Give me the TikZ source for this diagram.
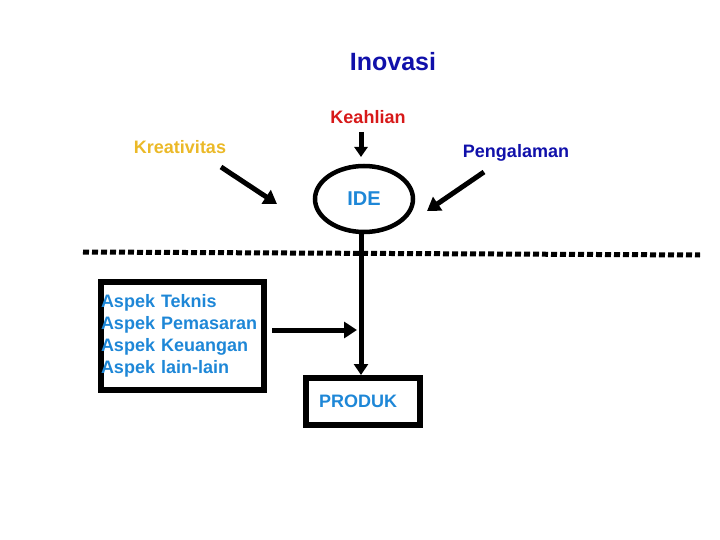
\documentclass[tikz,border=0pt]{standalone}
\usepackage{fontspec}
\setmainfont{Liberation Sans}
\usetikzlibrary{arrows.meta,shapes.geometric}
\definecolor{dblue}{RGB}{16,16,170}
\definecolor{kred}{RGB}{215,25,25}
\definecolor{kyel}{RGB}{235,185,40}
\definecolor{lblue}{RGB}{30,135,215}
\begin{document}
\begin{tikzpicture}[x=1pt,y=-1pt,
  lbl/.style={font=\fontsize{18}{22}\selectfont\bfseries, inner sep=0pt},
  arr/.style={line width=5pt, -{Triangle[length=13pt,width=16pt]}},
  frame/.style={draw=black, line width=6pt}]
\useasboundingbox (0,0) rectangle (720,540);
% labels
\node[lbl, font=\fontsize{25}{30}\selectfont\bfseries, text=dblue] (inovasi) at (393,62) {Inovasi};
\node[lbl, text=kred] (keahlian) at (368,117) {Keahlian};
\node[lbl, text=kyel] (kreativitas) at (180,147) {Kreativitas};
\node[lbl, text=dblue] (pengalaman) at (516,153) {Pengalaman};
% IDE
\node[ellipse, draw=black, line width=4.5pt, minimum width=98pt, minimum height=66pt, inner sep=0pt,
      text=lblue, font=\fontsize{20}{24}\selectfont\bfseries] (ide) at (364,199) {\raisebox{-2pt}{IDE}};
% aspects box
\node[frame, minimum width=163pt, minimum height=108pt, text width=163pt, inner xsep=0pt,
      align=left, text=lblue, font=\fontsize{18}{22}\selectfont\bfseries] (aspek) at (182.5,336)
  {Aspek Teknis\\Aspek Pemasaran\\Aspek Keuangan\\Aspek lain-lain};
% produk
\node[frame, minimum width=114pt, minimum height=47pt, text=lblue,
      font=\fontsize{18}{22}\selectfont\bfseries] (produk) at (363,401.5) {\hspace*{-10pt}\raisebox{-3pt}{PRODUK}};
% coordinates
\coordinate (vx) at (361,0);
\coordinate (ay) at (0,330);
\coordinate (kh1) at (361,132);
\coordinate (kh2) at (361,157);
\coordinate (kr1) at (221,167);
\coordinate (kr2) at (277,204);
\coordinate (pg1) at (484,172);
\coordinate (pg2) at (427,211);
\coordinate (dl) at (83,252);
\coordinate (dr) at (700,255);
% dotted line
\draw[line width=5pt, dash pattern=on 6pt off 3pt] (dl) -- (dr);
% arrows
\draw[arr, -{Triangle[length=10pt,width=13pt]}] (kh1) -- (kh2);
\draw[arr] (kr1) -- (kr2);
\draw[arr] (pg1) -- (pg2);
\draw[arr, -{Triangle[length=11pt,width=14pt]}] (ide.south -| vx) -- (produk.north -| vx);
\draw[arr, shorten <=5pt, shorten >=4pt] (aspek.east |- ay) -- (vx |- ay);
\end{tikzpicture}
\end{document}
